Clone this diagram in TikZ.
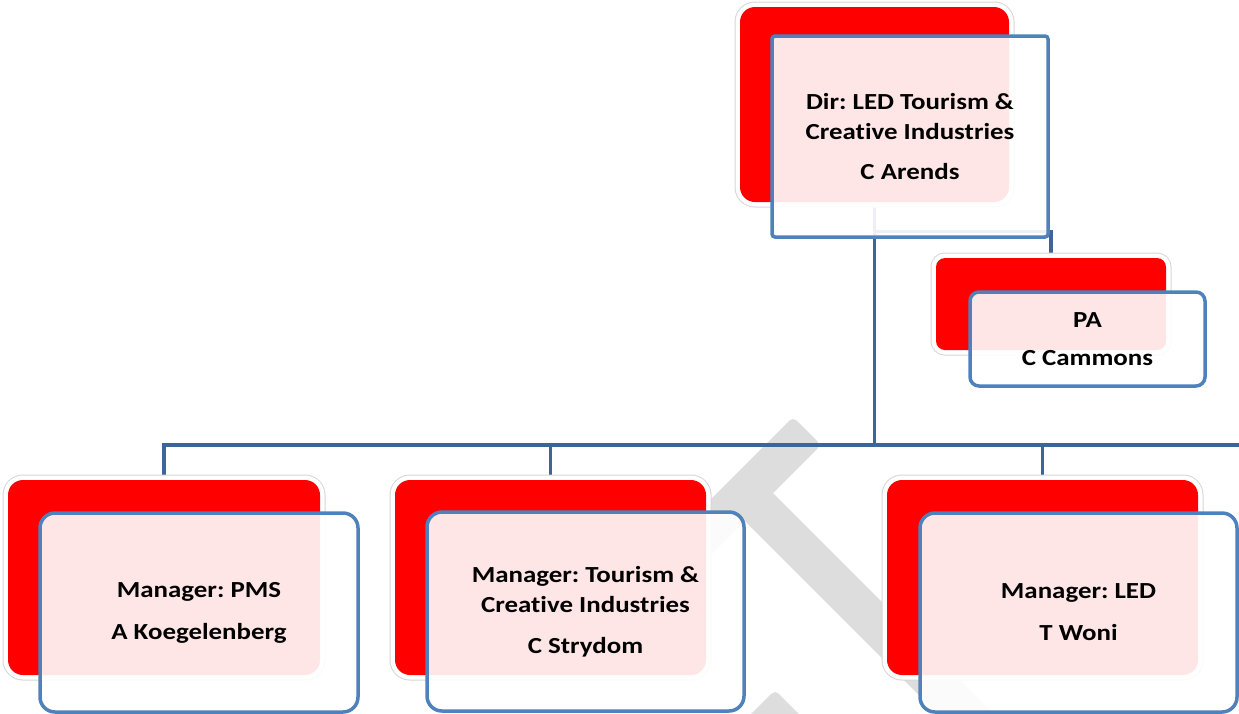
\documentclass[tikz,border=0pt]{standalone}
\usepackage{fontspec}
\setmainfont{Carlito}[FakeStretch=1.17, Ligatures=NoCommon]
\definecolor{boxblue}{RGB}{79,129,189}
\definecolor{linkblue}{RGB}{62,101,153}
\definecolor{markgray}{RGB}{221,221,221}
\pgfdeclarelayer{back}
\pgfsetlayers{back,main}
\begin{document}
\frenchspacing
\begin{tikzpicture}[x=1pt,y=-1pt,
  redbox/.style={rectangle, inner sep=0pt, rounded corners=#1,
    preaction={draw=black!16, line width=11},
    draw=white, line width=9, postaction={fill=red}},
  redbox/.default=15,
  frontbox/.style={rectangle, inner sep=0pt, rounded corners=#1,
    draw=boxblue, line width=3.5, fill=white, fill opacity=0.9, text opacity=1,
    align=center, font=\bfseries\fontsize{23}{30}\selectfont},
  frontbox/.default=15,
  link/.style={draw=linkblue, line width=3.8},
  stampstroke/.style={fill=markgray, rounded corners=5}]
\useasboundingbox (0,0) rectangle (1239,713);

% back boxes
\node[redbox, minimum width=269, minimum height=195] (rtop) at (874.5,104.5) {};
\node[redbox=9, minimum width=230, minimum height=92] (rpa) at (1051,304) {};
\node[redbox, minimum width=312, minimum height=195] (r1) at (164,577.5) {};
\node[redbox, minimum width=311, minimum height=195] (r2) at (550.5,577.5) {};
\node[redbox, minimum width=311, minimum height=195] (r3) at (1042.5,577.5) {};

\begin{pgfonlayer}{back}
  % faint diagonal watermark strokes
  \fill[stampstroke] (793,417) -- (821,445) -- (591,675) -- (563,647) -- cycle;
  \fill[markgray] (759,479) -- (999,719) -- (971,747) -- (731,507) -- cycle;
  \fill[stampstroke] (775,690) -- (820,735) -- (792,763) -- (747,718) -- cycle;

  % reporting lines
  \coordinate (busend) at (1239,445);
  \coordinate (ajoin) at ([yshift=-25pt]rtop.south);
  \draw[link] (rtop.south) -- (rtop.south |- busend);
  \draw[link] (ajoin) -| (rpa.north);
  \draw[link] (r1.north) |- (busend);
  \draw[link] (r2.north) -- (r2.north |- busend);
  \draw[link] (r3.north) -- (r3.north |- busend);
\end{pgfonlayer}

% front boxes with names
\node[frontbox=3, minimum width=276, minimum height=201] (ftop) at (910,136.5)
  {Dir: LED Tourism \&\\Creative Industries\\[10pt]C Arends};
\node[frontbox=9, minimum width=235, minimum height=94] (fpa) at (1087.5,339)
  {PA\\[8pt]C Cammons};
\node[frontbox, minimum width=318, minimum height=199] (f1) at (199,612.5)
  {Manager: PMS\\[12pt]A Koegelenberg};
\node[frontbox, minimum width=317, minimum height=199] (f2) at (585.5,611.5)
  {Manager: Tourism \&\\Creative Industries\\[11pt]C Strydom};
\node[frontbox, minimum width=317, minimum height=199] (f3) at (1078.5,612.5)
  {Manager: LED\\[12pt]T Woni};
\end{tikzpicture}
\end{document}
